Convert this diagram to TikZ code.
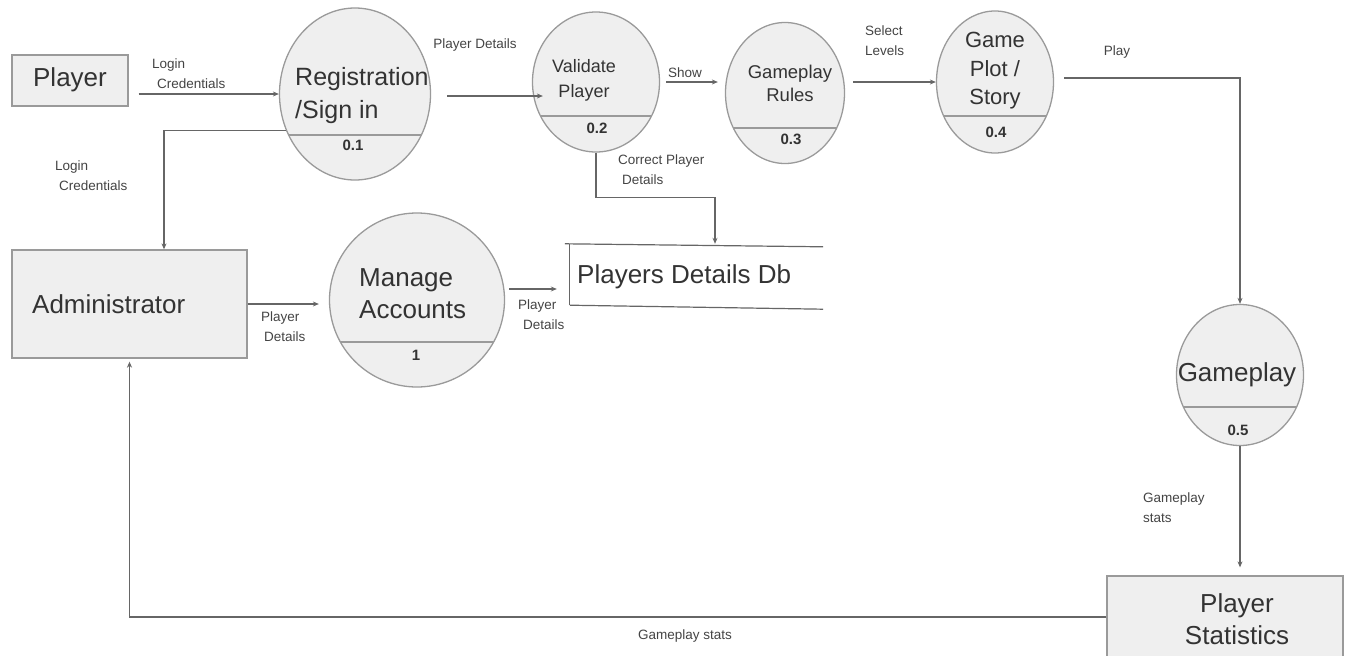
\documentclass[tikz,border=0pt]{standalone}
\usepackage{fontspec}
\setmainfont{Liberation Sans}
\usetikzlibrary{shapes.geometric,arrows.meta,calc}
\definecolor{edgec}{HTML}{9A9A9A}
\definecolor{fillc}{HTML}{EFEFEF}
\definecolor{linec}{HTML}{666666}
\definecolor{textc}{HTML}{333333}
\definecolor{lblc}{HTML}{444444}
\begin{document}
\begin{tikzpicture}[x=1pt,y=-1pt,
  every node/.style={text=textc, inner sep=0pt},
  box/.style={draw=edgec, fill=fillc, line width=1.3pt, rectangle},
  proc/.style n args={3}{draw=edgec, fill=fillc, line width=1.3pt, ellipse,
    minimum width=#1pt, minimum height=#2pt,
    path picture={\draw[edgec, line width=1.3pt]
      ([xshift=-300pt,yshift=-#3pt]path picture bounding box.center) --
      ([xshift=300pt,yshift=-#3pt]path picture bounding box.center);}},
  flow/.style={draw=linec, line width=1.2pt, -{Stealth[length=6pt,width=5pt]}},
  dbline/.style={draw=linec, line width=1.2pt},
  lbl/.style={font=\fontsize{13.5}{20}\selectfont, align=left, text=lblc},
  big/.style={font=\fontsize{26}{32}\selectfont, align=left},
  num/.style={font=\fontsize{15}{18}\selectfont\bfseries}
]
\useasboundingbox (0,0) rectangle (1353,656);

% external entities
\node[box, minimum width=116pt, minimum height=51pt] (player) at (70,80.5) {};
\node[big] (playert) at (70,80) {Player};
\node[box, minimum width=235pt, minimum height=108pt] (admin) at (129.5,304) {};
\node[big, anchor=west] (admint) at (32,304) {Administrator};
\node[box, minimum width=236pt, minimum height=86pt] (stats) at (1225,619) {};
\node[big, align=center] (statst) at (1237,619) {Player\\Statistics};

% processes
\node[proc={151}{172}{41}] (reg) at (355,94) {};
\node[font=\fontsize{25}{33}\selectfont, align=left, anchor=west] (regt) at (295,96) {Registration\\/Sign in};
\node[num] (regn) at (353,145) {0.1};

\node[proc={127}{140}{34}] (validate) at (596,82) {};
\node[font=\fontsize{18}{25}\selectfont, align=center] (validatet) at (584,80) {Validate\\Player};
\node[num] (validaten) at (597,128) {0.2};

\node[proc={119}{141}{35}] (rules) at (785,93) {};
\node[font=\fontsize{18.5}{23}\selectfont, align=center] (rulest) at (790,83) {Gameplay\\Rules};
\node[num] (rulesn) at (791,139) {0.3};

\node[proc={117}{142}{34}] (plot) at (995,82) {};
\node[font=\fontsize{22}{28.5}\selectfont, align=center] (plott) at (995,71) {Game\\Plot /\\Story};
\node[num] (plotn) at (996,132) {0.4};

\node[proc={127}{141}{32}] (gp) at (1240,375) {};
\node[big] (gpt) at (1237,375) {Gameplay};
\node[num] (gpn) at (1238,430) {0.5};

\node[proc={175}{174}{42}] (manage) at (417,300) {};
\node[big, anchor=west] (managet) at (359,294) {Manage\\Accounts};
\node[num] (managen) at (416,355) {1};

% data store
\node[minimum width=253pt, minimum height=61pt] (db) at (696.5,274.5) {};
\node[big, anchor=west] (dbt) at (577,277) {Players Details Db};
\draw[dbline] ([xshift=-5pt]db.north west) -- ([yshift=-3pt]db.north east);
\draw[dbline] (db.south west) -- ([yshift=-4pt]db.south east);
\draw[dbline] (db.north west) -- (db.south west);

% flows
\draw[flow, shorten <=10pt] (player.east |- reg.west) -- (reg.west);
\draw[flow] ([xshift=16pt,yshift=-2pt]reg.east) -- ([xshift=11pt,yshift=-2pt]reg.east -| validate.west);
\draw[flow] ([xshift=6pt]validate.east) -- ([xshift=-7pt]validate.east -| rules.west);
\draw[flow] ([xshift=8pt]rules.east |- plot.west) -- (plot.west);
\draw[flow] ([xshift=10pt,yshift=4pt]plot.east) -| (gp.north);
\draw[flow, shorten >=8pt] (gp.south) -- (gp.south |- stats.north);
\draw[flow, shorten >=3pt] ([yshift=2pt]stats.west) -| (admin.south);
\draw[flow] (reg.208) -| ([xshift=34.5pt]admin.north);
\draw[flow] (admin.east) -- ([xshift=-10pt]admin.east -| manage.west);
\draw[flow] ([xshift=4pt,yshift=11pt]manage.east) -- ([xshift=-13pt,yshift=11pt]manage.east -| db.west);
\draw[flow] (validate.south) -- ++(0,45) -| ([xshift=18.5pt]db.north);

% labels
\node[lbl, anchor=west] (l1) at (152,74) {Login\\\hspace*{5pt}Credentials};
\node[lbl] (l2) at (475,45) {Player Details};
\node[lbl] (l3) at (685,73) {Show};
\node[lbl, anchor=west] (l4) at (865,41) {Select\\Levels};
\node[lbl] (l5) at (1117,52) {Play};
\node[lbl, anchor=west] (l6) at (618,170) {Correct Player\\\hspace*{4pt}Details};
\node[lbl, anchor=west] (l7) at (55,176) {Login\\\hspace*{4pt}Credentials};
\node[lbl, anchor=west] (l8) at (261,327) {Player\\\hspace*{3pt}Details};
\node[lbl, anchor=west] (l9) at (518,315) {Player\\\hspace*{5pt}Details};
\node[lbl, anchor=west] (l10) at (1143,508) {Gameplay\\stats};
\node[lbl] (l11) at (685,636) {Gameplay stats};
\end{tikzpicture}
\end{document}
